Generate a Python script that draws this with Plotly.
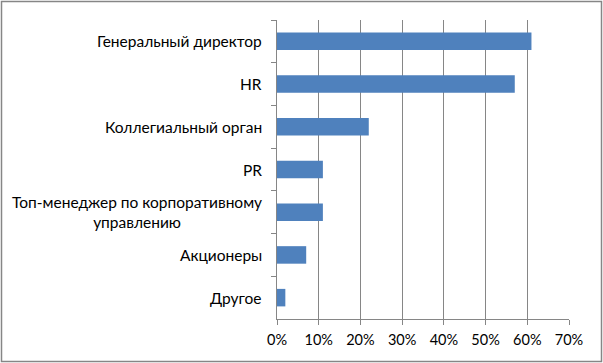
import plotly.graph_objects as go

categories = [
    "Генеральный директор",
    "HR",
    "Коллегиальный орган",
    "PR",
    "Топ-менеджер по корпоративному<br>управлению",
    "Акционеры",
    "Другое",
]
values = [0.61, 0.57, 0.22, 0.11, 0.11, 0.07, 0.02]
x_tickvals = [0, 0.1, 0.2, 0.3, 0.4, 0.5, 0.6, 0.7]
x_ticktext = ["0%", "10%", "20%", "30%", "40%", "50%", "60%", "70%"]

FONT = "Lato"
W, H = 603, 363
L, R, T, B = 277, 34, 20, 44
pw, ph = W - L - R, H - T - B

fig = go.Figure(
    go.Bar(
        x=values,
        y=categories,
        orientation="h",
        marker=dict(color="#4F81BD", line=dict(width=0)),
        width=0.41,
    )
)

annotations = []
for c in categories:
    annotations.append(
        dict(
            x=0, xref="paper", xanchor="right", xshift=-13,
            y=c, yref="y", yanchor="middle",
            text=c, showarrow=False, align="center",
            font=dict(family=FONT, size=15.5, color="#000000"),
        )
    )

fig.update_layout(
    width=W, height=H,
    margin=dict(l=L, r=R, t=T, b=B, autoexpand=False),
    paper_bgcolor="white", plot_bgcolor="white",
    showlegend=False,
    bargap=0.59,
    annotations=annotations,
    shapes=[
        dict(
            type="rect", xref="paper", yref="paper",
            x0=(1.5 - L) / pw, x1=(601.5 - L) / pw,
            y0=(H - B - 361.5) / ph, y1=(H - B - 1.5) / ph,
            line=dict(color="#868686", width=1.5),
            fillcolor="rgba(0,0,0,0)", layer="below",
        )
    ],
    xaxis=dict(
        range=[0, 0.7],
        tickvals=x_tickvals, ticktext=x_ticktext,
        showgrid=True, gridcolor="#868686", gridwidth=1,
        zeroline=False,
        showline=True, linecolor="#868686", linewidth=1,
        ticks="outside", ticklen=5, tickcolor="#868686",
        ticklabelstandoff=3,
        tickfont=dict(family=FONT, size=14.5, color="#000000"),
        fixedrange=True,
    ),
    yaxis=dict(
        autorange="reversed",
        categoryorder="array", categoryarray=categories,
        showticklabels=False,
        showgrid=False, zeroline=False,
        showline=True, linecolor="#868686", linewidth=1,
        ticks="outside", ticklen=5, tickcolor="#868686",
        tickson="boundaries",
        fixedrange=True,
    ),
)

fig.write_html(
    "out.html",
    config={"displayModeBar": False},
    post_script="document.body.style.margin='0';document.body.style.overflow='hidden';",
)
